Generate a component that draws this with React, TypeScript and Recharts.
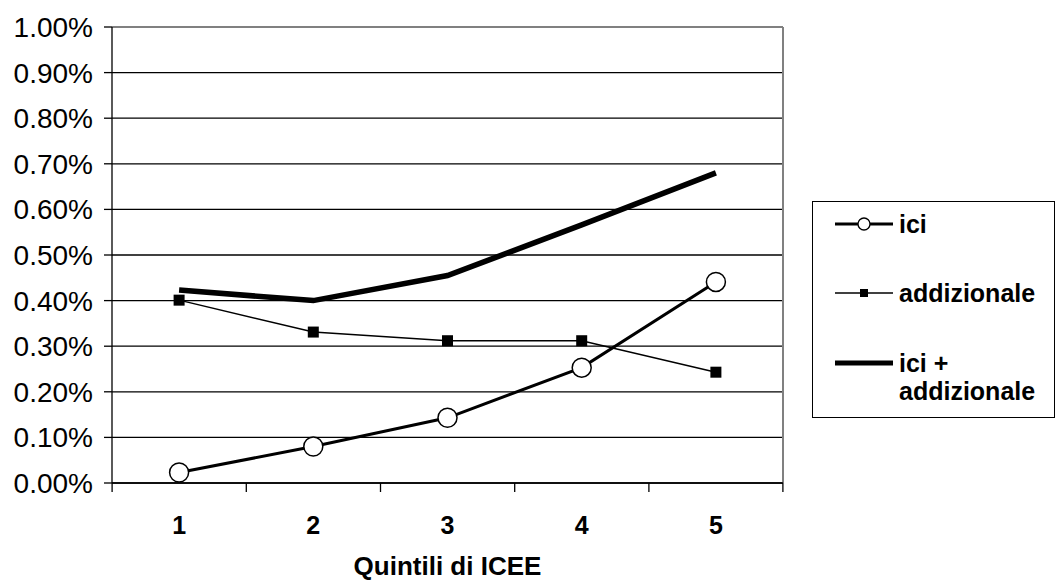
import React from 'react';
import { LineChart, Line, XAxis, YAxis, CartesianGrid, ReferenceLine } from 'recharts';

const quintili = [1, 2, 3, 4, 5];
const ici = [0.023, 0.08, 0.143, 0.253, 0.441];
const addizionale = [0.401, 0.331, 0.312, 0.312, 0.243];
const iciAddizionale = [0.423, 0.4, 0.455, 0.566, 0.68];
const yTicks = [0, 0.1, 0.2, 0.3, 0.4, 0.5, 0.6, 0.7, 0.8, 0.9, 1];

const data = quintili.map((q, i) => ({
  q,
  ici: ici[i],
  addizionale: addizionale[i],
  totale: iciAddizionale[i],
}));

const FONT = '"Liberation Sans", Arial, sans-serif';

// category labels in the middle, tick marks on the band edges
const QuintileTick = (props: any) => {
  const { x, y, payload, index } = props;
  const half = 67;
  return (
    <g>
      <line x1={x - half} x2={x - half} y1={y} y2={y + 9} stroke="#000" strokeWidth={1.3} />
      {index === quintili.length - 1 && (
        <line x1={x + half} x2={x + half} y1={y} y2={y + 9} stroke="#000" strokeWidth={1.3} />
      )}
      <text x={x} y={y + 51} textAnchor="middle" fontFamily={FONT} fontWeight="bold" fontSize={25} fill="#000">
        {payload.value}
      </text>
    </g>
  );
};

const SquareDot = (props: any) => {
  const { cx, cy, index } = props;
  return <rect key={`sq-${index}`} x={cx - 5.5} y={cy - 5.5} width={11} height={11} fill="#000" />;
};

const LegendBox = () => (
  <div
    style={{
      position: 'absolute',
      left: 812,
      top: 201,
      width: 241,
      height: 215,
      border: '1.5px solid #000',
      background: '#fff',
    }}
  >
    <svg width={241} height={215} style={{ display: 'block' }}>
      <g fontFamily={FONT} fontWeight="bold" fontSize={25} fill="#000">
        <line x1={22} x2={80} y1={22} y2={22} stroke="#000" strokeWidth={3} />
        <circle cx={51} cy={22} r={6} fill="#fff" stroke="#000" strokeWidth={1.3} />
        <text x={86} y={22} dominantBaseline="central">ici</text>

        <line x1={22} x2={80} y1={91} y2={91} stroke="#000" strokeWidth={1.5} />
        <rect x={47} y={87} width={8} height={8} fill="#000" />
        <text x={86} y={91} dominantBaseline="central">addizionale</text>

        <line x1={22} x2={80} y1={161} y2={161} stroke="#000" strokeWidth={5} />
        <text x={86} y={161} dominantBaseline="central">ici +</text>
        <text x={86} y={189} dominantBaseline="central">addizionale</text>
      </g>
    </svg>
  </div>
);

export default function App() {
  return (
    <div style={{ position: 'relative', width: 1055, height: 583, background: '#fff' }}>
      <style>{'body{margin:0}'}</style>
      <LineChart
        width={1055}
        height={583}
        data={data}
        margin={{ top: 27, right: 272, bottom: 0, left: 0 }}
      >
        <CartesianGrid vertical={false} stroke="#000" strokeWidth={1.3} />
        <XAxis
          type="number"
          dataKey="q"
          domain={[0.5, 5.5]}
          ticks={quintili}
          interval={0}
          height={100}
          tickLine={false}
          tickSize={0}
          tickMargin={0}
          axisLine={{ stroke: '#000', strokeWidth: 1.3 }}
          tick={<QuintileTick />}
          label={{
            value: 'Quintili di ICEE',
            position: 'insideBottom',
            offset: 8,
            style: { fontFamily: FONT, fontWeight: 'bold', fontSize: 26, fill: '#000' },
          }}
        />
        <YAxis
          type="number"
          domain={[0, 1]}
          ticks={yTicks}
          interval={0}
          width={112}
          tickSize={8}
          tickMargin={11}
          tickFormatter={(v: number) => `${v.toFixed(2)}%`}
          tickLine={{ stroke: '#000', strokeWidth: 1.3 }}
          axisLine={{ stroke: '#000', strokeWidth: 1.3 }}
          tick={{ fontFamily: FONT, fontSize: 28, fill: '#000' }}
        />
        <ReferenceLine y={1} stroke="#808080" strokeWidth={2} />
        <ReferenceLine x={5.5} stroke="#808080" strokeWidth={2} />
        <Line
          type="linear"
          dataKey="totale"
          stroke="#000"
          strokeWidth={5.5}
          dot={false}
          isAnimationActive={false}
        />
        <Line
          type="linear"
          dataKey="addizionale"
          stroke="#000"
          strokeWidth={1.5}
          dot={<SquareDot />}
          isAnimationActive={false}
        />
        <Line
          type="linear"
          dataKey="ici"
          stroke="#000"
          strokeWidth={3}
          dot={{ r: 9.5, fill: '#fff', stroke: '#000', strokeWidth: 1.5 }}
          isAnimationActive={false}
        />
      </LineChart>
      <LegendBox />
    </div>
  );
}
